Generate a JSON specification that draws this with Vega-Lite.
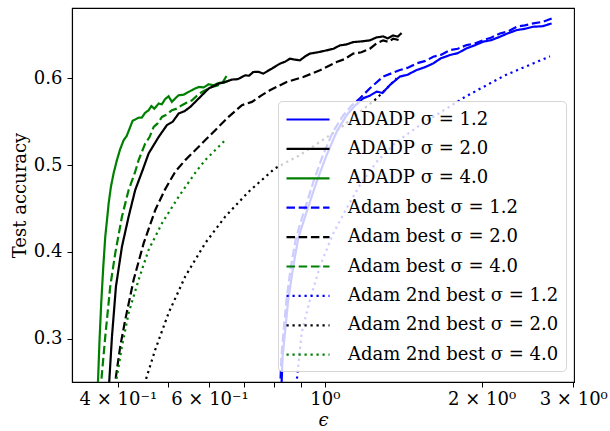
{
  "$schema": "https://vega.github.io/schema/vega-lite/v6.json",
  "width": 502,
  "height": 374,
  "autosize": {"type": "none"},
  "padding": {"left": 72, "top": 8, "right": 36, "bottom": 49},
  "background": "white",
  "config": {
    "font": "DejaVu Serif",
    "view": {"stroke": "black", "strokeWidth": 1.1},
    "axis": {
      "labelFont": "DejaVu Serif",
      "titleFont": "DejaVu Serif",
      "labelFontSize": 18,
      "titleFontSize": 18,
      "titleFontWeight": "normal",
      "labelColor": "black",
      "titleColor": "black",
      "tickColor": "black",
      "domainColor": "black",
      "domainWidth": 1.1,
      "tickWidth": 1,
      "grid": false
    },
    "legend": {
      "labelFont": "DejaVu Serif",
      "labelFontSize": 18,
      "labelColor": "black"
    }
  },
  "data": {
    "values": [
      {"s": "ADADP σ = 4.0", "x": 0.3650, "y": 0.24},
      {"s": "ADADP σ = 4.0", "x": 0.3664, "y": 0.2506},
      {"s": "ADADP σ = 4.0", "x": 0.3690, "y": 0.300},
      {"s": "ADADP σ = 4.0", "x": 0.3717, "y": 0.341},
      {"s": "ADADP σ = 4.0", "x": 0.3750, "y": 0.382},
      {"s": "ADADP σ = 4.0", "x": 0.3784, "y": 0.4176},
      {"s": "ADADP σ = 4.0", "x": 0.3815, "y": 0.438},
      {"s": "ADADP σ = 4.0", "x": 0.3841, "y": 0.456},
      {"s": "ADADP σ = 4.0", "x": 0.3880, "y": 0.475},
      {"s": "ADADP σ = 4.0", "x": 0.3926, "y": 0.4905},
      {"s": "ADADP σ = 4.0", "x": 0.3984, "y": 0.5057},
      {"s": "ADADP σ = 4.0", "x": 0.4040, "y": 0.518},
      {"s": "ADADP σ = 4.0", "x": 0.4105, "y": 0.5287},
      {"s": "ADADP σ = 4.0", "x": 0.4160, "y": 0.5335},
      {"s": "ADADP σ = 4.0", "x": 0.4226, "y": 0.544},
      {"s": "ADADP σ = 4.0", "x": 0.4270, "y": 0.551},
      {"s": "ADADP σ = 4.0", "x": 0.4320, "y": 0.5525},
      {"s": "ADADP σ = 4.0", "x": 0.4380, "y": 0.5545},
      {"s": "ADADP σ = 4.0", "x": 0.4451, "y": 0.5548},
      {"s": "ADADP σ = 4.0", "x": 0.4510, "y": 0.5600},
      {"s": "ADADP σ = 4.0", "x": 0.4584, "y": 0.5632},
      {"s": "ADADP σ = 4.0", "x": 0.4640, "y": 0.5680},
      {"s": "ADADP σ = 4.0", "x": 0.4700, "y": 0.5650},
      {"s": "ADADP σ = 4.0", "x": 0.4793, "y": 0.5709},
      {"s": "ADADP σ = 4.0", "x": 0.4860, "y": 0.5700},
      {"s": "ADADP σ = 4.0", "x": 0.4930, "y": 0.5760},
      {"s": "ADADP σ = 4.0", "x": 0.5007, "y": 0.5793},
      {"s": "ADADP σ = 4.0", "x": 0.5081, "y": 0.5728},
      {"s": "ADADP σ = 4.0", "x": 0.5150, "y": 0.5765},
      {"s": "ADADP σ = 4.0", "x": 0.5235, "y": 0.5805},
      {"s": "ADADP σ = 4.0", "x": 0.5350, "y": 0.5810},
      {"s": "ADADP σ = 4.0", "x": 0.5472, "y": 0.5843},
      {"s": "ADADP σ = 4.0", "x": 0.5600, "y": 0.5875},
      {"s": "ADADP σ = 4.0", "x": 0.5720, "y": 0.5900},
      {"s": "ADADP σ = 4.0", "x": 0.5850, "y": 0.5895},
      {"s": "ADADP σ = 4.0", "x": 0.5978, "y": 0.5931},
      {"s": "ADADP σ = 4.0", "x": 0.6110, "y": 0.5920},
      {"s": "ADADP σ = 4.0", "x": 0.6249, "y": 0.5946},
      {"s": "ADADP σ = 4.0", "x": 0.6400, "y": 0.5950},
      {"s": "ADADP σ = 4.0", "x": 0.6550, "y": 0.5975},

      {"s": "Adam best σ = 4.0", "x": 0.3700, "y": 0.24},
      {"s": "Adam best σ = 4.0", "x": 0.3717, "y": 0.2506},
      {"s": "Adam best σ = 4.0", "x": 0.3784, "y": 0.3026},
      {"s": "Adam best σ = 4.0", "x": 0.3868, "y": 0.3601},
      {"s": "Adam best σ = 4.0", "x": 0.3955, "y": 0.3985},
      {"s": "Adam best σ = 4.0", "x": 0.4074, "y": 0.4406},
      {"s": "Adam best σ = 4.0", "x": 0.4196, "y": 0.4713},
      {"s": "Adam best σ = 4.0", "x": 0.4320, "y": 0.4923},
      {"s": "Adam best σ = 4.0", "x": 0.4385, "y": 0.5057},
      {"s": "Adam best σ = 4.0", "x": 0.4516, "y": 0.5249},
      {"s": "Adam best σ = 4.0", "x": 0.4600, "y": 0.5320},
      {"s": "Adam best σ = 4.0", "x": 0.4688, "y": 0.5440},
      {"s": "Adam best σ = 4.0", "x": 0.4770, "y": 0.5480},
      {"s": "Adam best σ = 4.0", "x": 0.4863, "y": 0.5555},
      {"s": "Adam best σ = 4.0", "x": 0.4960, "y": 0.5580},
      {"s": "Adam best σ = 4.0", "x": 0.5081, "y": 0.5632},
      {"s": "Adam best σ = 4.0", "x": 0.5190, "y": 0.5650},
      {"s": "Adam best σ = 4.0", "x": 0.5312, "y": 0.5690},
      {"s": "Adam best σ = 4.0", "x": 0.5430, "y": 0.5720},
      {"s": "Adam best σ = 4.0", "x": 0.5553, "y": 0.5747},
      {"s": "Adam best σ = 4.0", "x": 0.5680, "y": 0.5800},
      {"s": "Adam best σ = 4.0", "x": 0.5804, "y": 0.5843},
      {"s": "Adam best σ = 4.0", "x": 0.5930, "y": 0.5870},
      {"s": "Adam best σ = 4.0", "x": 0.6067, "y": 0.5900},
      {"s": "Adam best σ = 4.0", "x": 0.6200, "y": 0.5915},
      {"s": "Adam best σ = 4.0", "x": 0.6342, "y": 0.5939},
      {"s": "Adam best σ = 4.0", "x": 0.6481, "y": 0.6034},

      {"s": "ADADP σ = 2.0", "x": 0.3840, "y": 0.24},
      {"s": "ADADP σ = 2.0", "x": 0.3851, "y": 0.2506},
      {"s": "ADADP σ = 2.0", "x": 0.3898, "y": 0.3026},
      {"s": "ADADP σ = 2.0", "x": 0.3967, "y": 0.3601},
      {"s": "ADADP σ = 2.0", "x": 0.4074, "y": 0.4061},
      {"s": "ADADP σ = 2.0", "x": 0.4196, "y": 0.4406},
      {"s": "ADADP σ = 2.0", "x": 0.4320, "y": 0.4713},
      {"s": "ADADP σ = 2.0", "x": 0.4465, "y": 0.4943},
      {"s": "ADADP σ = 2.0", "x": 0.4584, "y": 0.5134},
      {"s": "ADADP σ = 2.0", "x": 0.4793, "y": 0.5325},
      {"s": "ADADP σ = 2.0", "x": 0.4970, "y": 0.5460},
      {"s": "ADADP σ = 2.0", "x": 0.5100, "y": 0.5500},
      {"s": "ADADP σ = 2.0", "x": 0.5235, "y": 0.5594},
      {"s": "ADADP σ = 2.0", "x": 0.5370, "y": 0.5620},
      {"s": "ADADP σ = 2.0", "x": 0.5511, "y": 0.5670},
      {"s": "ADADP σ = 2.0", "x": 0.5720, "y": 0.5767},
      {"s": "ADADP σ = 2.0", "x": 0.5978, "y": 0.5882},
      {"s": "ADADP σ = 2.0", "x": 0.6249, "y": 0.5939},
      {"s": "ADADP σ = 2.0", "x": 0.6450, "y": 0.5960},
      {"s": "ADADP σ = 2.0", "x": 0.6627, "y": 0.5985},
      {"s": "ADADP σ = 2.0", "x": 0.6800, "y": 0.5990},
      {"s": "ADADP σ = 2.0", "x": 0.7027, "y": 0.6034},
      {"s": "ADADP σ = 2.0", "x": 0.7150, "y": 0.6030},
      {"s": "ADADP σ = 2.0", "x": 0.7281, "y": 0.6072},
      {"s": "ADADP σ = 2.0", "x": 0.7450, "y": 0.6075},
      {"s": "ADADP σ = 2.0", "x": 0.7612, "y": 0.6054},
      {"s": "ADADP σ = 2.0", "x": 0.7900, "y": 0.6110},
      {"s": "ADADP σ = 2.0", "x": 0.8195, "y": 0.6169},
      {"s": "ADADP σ = 2.0", "x": 0.8380, "y": 0.6190},
      {"s": "ADADP σ = 2.0", "x": 0.8564, "y": 0.6226},
      {"s": "ADADP σ = 2.0", "x": 0.8750, "y": 0.6215},
      {"s": "ADADP σ = 2.0", "x": 0.8954, "y": 0.6207},
      {"s": "ADADP σ = 2.0", "x": 0.9150, "y": 0.6250},
      {"s": "ADADP σ = 2.0", "x": 0.9358, "y": 0.6284},
      {"s": "ADADP σ = 2.0", "x": 0.9700, "y": 0.6300},
      {"s": "ADADP σ = 2.0", "x": 1.0076, "y": 0.6322},
      {"s": "ADADP σ = 2.0", "x": 1.0380, "y": 0.6340},
      {"s": "ADADP σ = 2.0", "x": 1.0686, "y": 0.6379},
      {"s": "ADADP σ = 2.0", "x": 1.1000, "y": 0.6390},
      {"s": "ADADP σ = 2.0", "x": 1.1334, "y": 0.6417},
      {"s": "ADADP σ = 2.0", "x": 1.1750, "y": 0.6425},
      {"s": "ADADP σ = 2.0", "x": 1.2203, "y": 0.6437},
      {"s": "ADADP σ = 2.0", "x": 1.2550, "y": 0.6470},
      {"s": "ADADP σ = 2.0", "x": 1.2941, "y": 0.6483},
      {"s": "ADADP σ = 2.0", "x": 1.3200, "y": 0.6460},
      {"s": "ADADP σ = 2.0", "x": 1.3527, "y": 0.6494},
      {"s": "ADADP σ = 2.0", "x": 1.3800, "y": 0.6480},
      {"s": "ADADP σ = 2.0", "x": 1.4039, "y": 0.6521},

      {"s": "Adam best σ = 2.0", "x": 0.3940, "y": 0.24},
      {"s": "Adam best σ = 2.0", "x": 0.3955, "y": 0.2506},
      {"s": "Adam best σ = 2.0", "x": 0.4043, "y": 0.2911},
      {"s": "Adam best σ = 2.0", "x": 0.4134, "y": 0.3218},
      {"s": "Adam best σ = 2.0", "x": 0.4290, "y": 0.3678},
      {"s": "Adam best σ = 2.0", "x": 0.4485, "y": 0.4100},
      {"s": "Adam best σ = 2.0", "x": 0.4721, "y": 0.4483},
      {"s": "Adam best σ = 2.0", "x": 0.4930, "y": 0.4720},
      {"s": "Adam best σ = 2.0", "x": 0.5157, "y": 0.4923},
      {"s": "Adam best σ = 2.0", "x": 0.5390, "y": 0.5057},
      {"s": "Adam best σ = 2.0", "x": 0.5804, "y": 0.5249},
      {"s": "Adam best σ = 2.0", "x": 0.6156, "y": 0.5402},
      {"s": "Adam best σ = 2.0", "x": 0.6529, "y": 0.5555},
      {"s": "Adam best σ = 2.0", "x": 0.6926, "y": 0.5690},
      {"s": "Adam best σ = 2.0", "x": 0.7240, "y": 0.5728},
      {"s": "Adam best σ = 2.0", "x": 0.7540, "y": 0.5800},
      {"s": "Adam best σ = 2.0", "x": 0.7839, "y": 0.5862},
      {"s": "Adam best σ = 2.0", "x": 0.8441, "y": 0.5957},
      {"s": "Adam best σ = 2.0", "x": 0.9086, "y": 0.6015},
      {"s": "Adam best σ = 2.0", "x": 0.9781, "y": 0.6092},
      {"s": "Adam best σ = 2.0", "x": 1.0531, "y": 0.6187},
      {"s": "Adam best σ = 2.0", "x": 1.0900, "y": 0.6220},
      {"s": "Adam best σ = 2.0", "x": 1.1334, "y": 0.6284},
      {"s": "Adam best σ = 2.0", "x": 1.1750, "y": 0.6300},
      {"s": "Adam best σ = 2.0", "x": 1.2203, "y": 0.6341},
      {"s": "Adam best σ = 2.0", "x": 1.2550, "y": 0.6400},
      {"s": "Adam best σ = 2.0", "x": 1.2941, "y": 0.6437},
      {"s": "Adam best σ = 2.0", "x": 1.3250, "y": 0.6420},
      {"s": "Adam best σ = 2.0", "x": 1.3527, "y": 0.6456},
      {"s": "Adam best σ = 2.0", "x": 1.3934, "y": 0.6437},

      {"s": "Adam 2nd best σ = 4.0", "x": 0.3950, "y": 0.24},
      {"s": "Adam 2nd best σ = 4.0", "x": 0.3970, "y": 0.2506},
      {"s": "Adam 2nd best σ = 4.0", "x": 0.4074, "y": 0.2911},
      {"s": "Adam 2nd best σ = 4.0", "x": 0.4196, "y": 0.3295},
      {"s": "Adam 2nd best σ = 4.0", "x": 0.4385, "y": 0.3678},
      {"s": "Adam 2nd best σ = 4.0", "x": 0.4584, "y": 0.4023},
      {"s": "Adam 2nd best σ = 4.0", "x": 0.4863, "y": 0.4330},
      {"s": "Adam 2nd best σ = 4.0", "x": 0.5235, "y": 0.4636},
      {"s": "Adam 2nd best σ = 4.0", "x": 0.5652, "y": 0.4923},
      {"s": "Adam 2nd best σ = 4.0", "x": 0.5888, "y": 0.5057},
      {"s": "Adam 2nd best σ = 4.0", "x": 0.6481, "y": 0.5307},

      {"s": "Adam 2nd best σ = 2.0", "x": 0.4500, "y": 0.24},
      {"s": "Adam 2nd best σ = 2.0", "x": 0.4516, "y": 0.2506},
      {"s": "Adam 2nd best σ = 2.0", "x": 0.4721, "y": 0.2874},
      {"s": "Adam 2nd best σ = 2.0", "x": 0.5007, "y": 0.3295},
      {"s": "Adam 2nd best σ = 2.0", "x": 0.5390, "y": 0.3716},
      {"s": "Adam 2nd best σ = 2.0", "x": 0.5888, "y": 0.4100},
      {"s": "Adam 2nd best σ = 2.0", "x": 0.6433, "y": 0.4406},
      {"s": "Adam 2nd best σ = 2.0", "x": 0.7137, "y": 0.4693},
      {"s": "Adam 2nd best σ = 2.0", "x": 0.8015, "y": 0.4962},
      {"s": "Adam 2nd best σ = 2.0", "x": 0.8954, "y": 0.5115},
      {"s": "Adam 2nd best σ = 2.0", "x": 0.9781, "y": 0.5268},
      {"s": "Adam 2nd best σ = 2.0", "x": 1.0686, "y": 0.5422},
      {"s": "Adam 2nd best σ = 2.0", "x": 1.1675, "y": 0.5613},
      {"s": "Adam 2nd best σ = 2.0", "x": 1.2572, "y": 0.5767},
      {"s": "Adam 2nd best σ = 2.0", "x": 1.3730, "y": 0.6000},

      {"s": "ADADP σ = 1.2", "x": 0.8250, "y": 0.24},
      {"s": "ADADP σ = 1.2", "x": 0.8257, "y": 0.2506},
      {"s": "ADADP σ = 1.2", "x": 0.8293, "y": 0.2797},
      {"s": "ADADP σ = 1.2", "x": 0.8379, "y": 0.3066},
      {"s": "ADADP σ = 1.2", "x": 0.8502, "y": 0.3448},
      {"s": "ADADP σ = 1.2", "x": 0.8692, "y": 0.3831},
      {"s": "ADADP σ = 1.2", "x": 0.8886, "y": 0.4157},
      {"s": "ADADP σ = 1.2", "x": 0.9223, "y": 0.4463},
      {"s": "ADADP σ = 1.2", "x": 0.9640, "y": 0.4808},
      {"s": "ADADP σ = 1.2", "x": 1.0076, "y": 0.5115},
      {"s": "ADADP σ = 1.2", "x": 1.0531, "y": 0.5383},
      {"s": "ADADP σ = 1.2", "x": 1.1007, "y": 0.5575},
      {"s": "ADADP σ = 1.2", "x": 1.1400, "y": 0.5680},
      {"s": "ADADP σ = 1.2", "x": 1.1848, "y": 0.5770},
      {"s": "ADADP σ = 1.2", "x": 1.2200, "y": 0.5800},
      {"s": "ADADP σ = 1.2", "x": 1.2572, "y": 0.5847},
      {"s": "ADADP σ = 1.2", "x": 1.2900, "y": 0.5830},
      {"s": "ADADP σ = 1.2", "x": 1.3331, "y": 0.5923},
      {"s": "ADADP σ = 1.2", "x": 1.3934, "y": 0.6020},
      {"s": "ADADP σ = 1.2", "x": 1.4400, "y": 0.6040},
      {"s": "ADADP σ = 1.2", "x": 1.5006, "y": 0.6095},
      {"s": "ADADP σ = 1.2", "x": 1.5600, "y": 0.6130},
      {"s": "ADADP σ = 1.2", "x": 1.6149, "y": 0.6172},
      {"s": "ADADP σ = 1.2", "x": 1.6700, "y": 0.6230},
      {"s": "ADADP σ = 1.2", "x": 1.7389, "y": 0.6268},
      {"s": "ADADP σ = 1.2", "x": 1.8000, "y": 0.6290},
      {"s": "ADADP σ = 1.2", "x": 1.8720, "y": 0.6345},
      {"s": "ADADP σ = 1.2", "x": 1.9400, "y": 0.6380},
      {"s": "ADADP σ = 1.2", "x": 2.0143, "y": 0.6422},
      {"s": "ADADP σ = 1.2", "x": 2.0900, "y": 0.6440},
      {"s": "ADADP σ = 1.2", "x": 2.1690, "y": 0.6479},
      {"s": "ADADP σ = 1.2", "x": 2.2500, "y": 0.6520},
      {"s": "ADADP σ = 1.2", "x": 2.3351, "y": 0.6555},
      {"s": "ADADP σ = 1.2", "x": 2.4200, "y": 0.6570},
      {"s": "ADADP σ = 1.2", "x": 2.5130, "y": 0.6594},
      {"s": "ADADP σ = 1.2", "x": 2.6200, "y": 0.6600},
      {"s": "ADADP σ = 1.2", "x": 2.7266, "y": 0.6632},

      {"s": "Adam best σ = 1.2", "x": 0.8205, "y": 0.24},
      {"s": "Adam best σ = 1.2", "x": 0.8213, "y": 0.2506},
      {"s": "Adam best σ = 1.2", "x": 0.8250, "y": 0.2797},
      {"s": "Adam best σ = 1.2", "x": 0.8323, "y": 0.3066},
      {"s": "Adam best σ = 1.2", "x": 0.8435, "y": 0.3448},
      {"s": "Adam best σ = 1.2", "x": 0.8603, "y": 0.3831},
      {"s": "Adam best σ = 1.2", "x": 0.8796, "y": 0.4157},
      {"s": "Adam best σ = 1.2", "x": 0.9112, "y": 0.4463},
      {"s": "Adam best σ = 1.2", "x": 0.9504, "y": 0.4808},
      {"s": "Adam best σ = 1.2", "x": 0.9912, "y": 0.5115},
      {"s": "Adam best σ = 1.2", "x": 1.0360, "y": 0.5383},
      {"s": "Adam best σ = 1.2", "x": 1.0852, "y": 0.5575},
      {"s": "Adam best σ = 1.2", "x": 1.1269, "y": 0.5690},
      {"s": "Adam best σ = 1.2", "x": 1.1675, "y": 0.5770},
      {"s": "Adam best σ = 1.2", "x": 1.2203, "y": 0.5885},
      {"s": "Adam best σ = 1.2", "x": 1.2941, "y": 0.6020},
      {"s": "Adam best σ = 1.2", "x": 1.3934, "y": 0.6095},
      {"s": "Adam best σ = 1.2", "x": 1.4400, "y": 0.6120},
      {"s": "Adam best σ = 1.2", "x": 1.5006, "y": 0.6172},
      {"s": "Adam best σ = 1.2", "x": 1.5600, "y": 0.6200},
      {"s": "Adam best σ = 1.2", "x": 1.6149, "y": 0.6249},
      {"s": "Adam best σ = 1.2", "x": 1.6700, "y": 0.6270},
      {"s": "Adam best σ = 1.2", "x": 1.7389, "y": 0.6325},
      {"s": "Adam best σ = 1.2", "x": 1.8000, "y": 0.6340},
      {"s": "Adam best σ = 1.2", "x": 1.8720, "y": 0.6383},
      {"s": "Adam best σ = 1.2", "x": 1.9400, "y": 0.6400},
      {"s": "Adam best σ = 1.2", "x": 2.0143, "y": 0.6440},
      {"s": "Adam best σ = 1.2", "x": 2.0900, "y": 0.6470},
      {"s": "Adam best σ = 1.2", "x": 2.1690, "y": 0.6517},
      {"s": "Adam best σ = 1.2", "x": 2.2500, "y": 0.6540},
      {"s": "Adam best σ = 1.2", "x": 2.3351, "y": 0.6594},
      {"s": "Adam best σ = 1.2", "x": 2.4200, "y": 0.6610},
      {"s": "Adam best σ = 1.2", "x": 2.5130, "y": 0.6632},
      {"s": "Adam best σ = 1.2", "x": 2.6200, "y": 0.6650},
      {"s": "Adam best σ = 1.2", "x": 2.7266, "y": 0.6690},

      {"s": "Adam 2nd best σ = 1.2", "x": 0.8810, "y": 0.24},
      {"s": "Adam 2nd best σ = 1.2", "x": 0.8824, "y": 0.2506},
      {"s": "Adam 2nd best σ = 1.2", "x": 0.9021, "y": 0.3066},
      {"s": "Adam 2nd best σ = 1.2", "x": 0.9358, "y": 0.3448},
      {"s": "Adam 2nd best σ = 1.2", "x": 0.9781, "y": 0.3831},
      {"s": "Adam 2nd best σ = 1.2", "x": 1.0360, "y": 0.4207},
      {"s": "Adam 2nd best σ = 1.2", "x": 1.1007, "y": 0.4502},
      {"s": "Adam 2nd best σ = 1.2", "x": 1.1675, "y": 0.4770},
      {"s": "Adam 2nd best σ = 1.2", "x": 1.2572, "y": 0.5038},
      {"s": "Adam 2nd best σ = 1.2", "x": 1.3730, "y": 0.5268},
      {"s": "Adam 2nd best σ = 1.2", "x": 1.5227, "y": 0.5460},
      {"s": "Adam 2nd best σ = 1.2", "x": 1.7136, "y": 0.5652},
      {"s": "Adam 2nd best σ = 1.2", "x": 1.8578, "y": 0.5785},
      {"s": "Adam 2nd best σ = 1.2", "x": 2.2175, "y": 0.6034},
      {"s": "Adam 2nd best σ = 1.2", "x": 2.7062, "y": 0.6253}
    ]
  },
  "mark": {"type": "line", "clip": true, "strokeWidth": 2.2, "interpolate": "linear"},
  "encoding": {
    "x": {
      "field": "x",
      "type": "quantitative",
      "scale": {"type": "log", "domain": [0.3266, 3.01], "nice": false, "zero": false},
      "axis": {
        "title": "ϵ",
        "titleFontStyle": "italic",
        "titlePadding": 3,
        "values": [0.4, 0.5, 0.6, 0.7, 0.8, 0.9, 1, 2, 3],
        "labelExpr": "datum.value == 0.4 ? '4 × 10⁻¹' : datum.value == 0.6 ? '6 × 10⁻¹' : datum.value == 1 ? '10⁰' : datum.value == 2 ? '2 × 10⁰' : datum.value == 3 ? '3 × 10⁰' : ''",
        "tickSize": 5,
        "labelPadding": 3,
        "labelFlush": false,
        "labelOverlap": false
      }
    },
    "y": {
      "field": "y",
      "type": "quantitative",
      "scale": {"domain": [0.25, 0.681], "nice": false, "zero": false},
      "axis": {
        "title": "Test accuracy",
        "values": [0.3, 0.4, 0.5, 0.6],
        "format": ".1f",
        "tickSize": 5,
        "labelPadding": 5,
        "titlePadding": 4
      }
    },
    "color": {
      "field": "s",
      "type": "nominal",
      "scale": {
        "domain": ["ADADP σ = 1.2", "ADADP σ = 2.0", "ADADP σ = 4.0", "Adam best σ = 1.2", "Adam best σ = 2.0", "Adam best σ = 4.0", "Adam 2nd best σ = 1.2", "Adam 2nd best σ = 2.0", "Adam 2nd best σ = 4.0"],
        "range": ["#0000ff", "#000000", "#008000", "#0000ff", "#000000", "#008000", "#0000ff", "#000000", "#008000"]
      },
      "legend": {
        "title": null,
        "orient": "none",
        "legendX": 206,
        "legendY": 93,
        "symbolType": "M-1,0H3.3",
        "symbolSize": 400,
        "symbolStrokeWidth": 2.2,
        "labelFont": "DejaVu Serif",
        "labelFontSize": 18,
        "labelOffset": 40,
        "padding": 7,
        "rowPadding": 8.4,
        "fillColor": "rgba(255,255,255,0.8)",
        "strokeColor": "#d5d5d5",
        "cornerRadius": 4,
        "labelLimit": 400
      }
    },
    "strokeDash": {
      "field": "s",
      "type": "nominal",
      "scale": {
        "domain": ["ADADP σ = 1.2", "ADADP σ = 2.0", "ADADP σ = 4.0", "Adam best σ = 1.2", "Adam best σ = 2.0", "Adam best σ = 4.0", "Adam 2nd best σ = 1.2", "Adam 2nd best σ = 2.0", "Adam 2nd best σ = 4.0"],
        "range": [[1, 0], [1, 0], [1, 0], [8.5, 3.7], [8.5, 3.7], [8.5, 3.7], [2.2, 3.8], [2.2, 3.8], [2.2, 3.8]]
      },
      "legend": {
        "title": null,
        "orient": "none",
        "legendX": 206,
        "legendY": 93,
        "symbolType": "M-1,0H3.3",
        "symbolSize": 400,
        "symbolStrokeWidth": 2.2,
        "labelFont": "DejaVu Serif",
        "labelFontSize": 18,
        "labelOffset": 40,
        "padding": 7,
        "rowPadding": 8.4,
        "fillColor": "rgba(255,255,255,0.8)",
        "strokeColor": "#d5d5d5",
        "cornerRadius": 4,
        "labelLimit": 400
      }
    }
  }
}
